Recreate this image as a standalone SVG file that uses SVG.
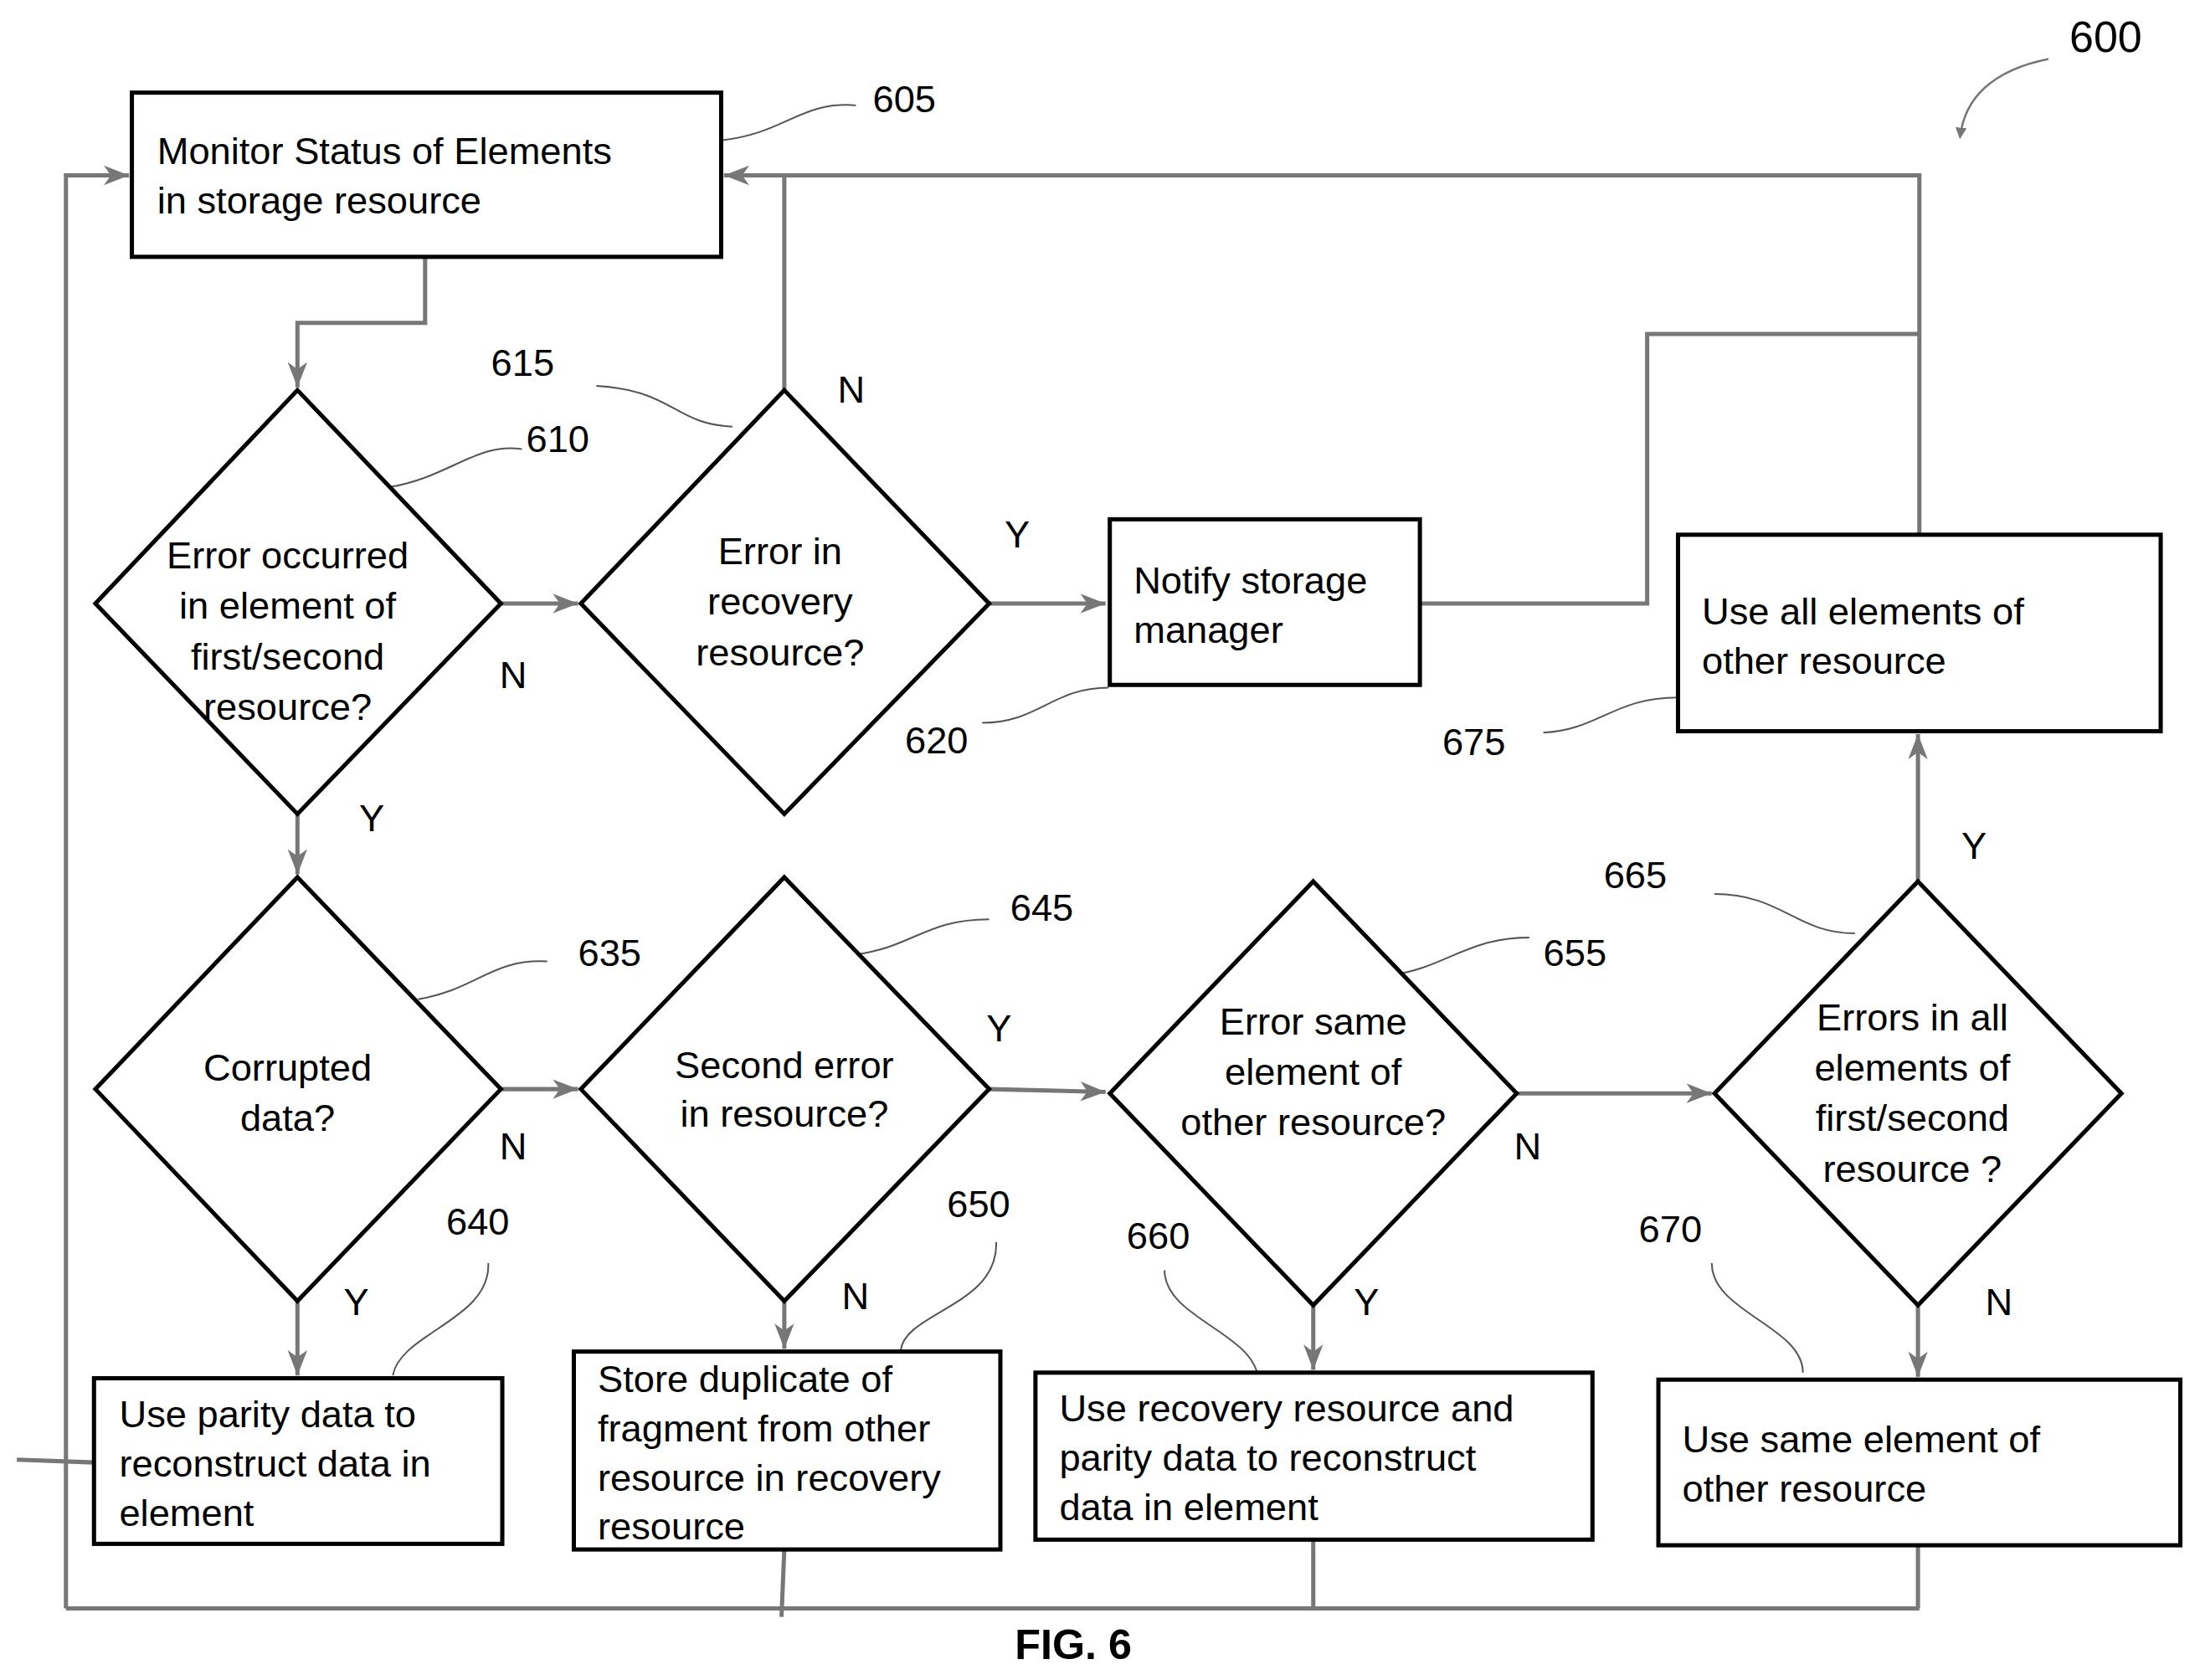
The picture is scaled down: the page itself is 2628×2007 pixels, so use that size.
<svg xmlns="http://www.w3.org/2000/svg" width="2628" height="2007" viewBox="0 0 2628 2007">
<style>
.b{fill:#fff;stroke:#000;stroke-width:3}
.c{fill:none;stroke:#777;stroke-width:3}
.l{fill:none;stroke:#555;stroke-width:1.2}
text{font-family:"Liberation Sans",Arial,sans-serif;font-size:27px;fill:#000}
.m{text-anchor:middle}
</style>
<defs><marker id="a" markerWidth="8" markerHeight="8" refX="7" refY="4" orient="auto" markerUnits="userSpaceOnUse" viewBox="0 0 8 8"><path d="M0,0 L8,4 L0,8 z" fill="#777"/></marker>
<marker id="k" markerWidth="20" markerHeight="20" refX="18" refY="10" orient="auto" markerUnits="userSpaceOnUse"><path d="M0,3 L18,10 L0,17 L5,10 z" fill="#777"/></marker></defs>
<rect width="2628" height="2007" fill="#fff"/>
<g transform="scale(1.676,1.6767)">
<g id="connectors">
<path class="c" d="M303,183 V230 H212 V276" marker-end="url(#k)"/>
<path class="c" d="M357,430 H412" marker-end="url(#k)"/>
<path class="c" d="M705,430 H788" marker-end="url(#k)"/>
<path class="c" d="M559,278 V125"/>
<path class="c" d="M1368,380 V125 H516" marker-end="url(#k)"/>
<path class="c" d="M1012,430 H1174 V238 H1368"/>
<path class="c" d="M47,1146 V125 H92" marker-end="url(#k)"/>
<path class="c" d="M47,1146 H1368"/>
<path class="c" d="M12,1040 L67,1042"/>
<path class="c" d="M212,580 V623" marker-end="url(#k)"/>
<path class="c" d="M357,776 H412" marker-end="url(#k)"/>
<path class="c" d="M705,776 L788,778" marker-end="url(#k)"/>
<path class="c" d="M1081,779 H1220" marker-end="url(#k)"/>
<path class="c" d="M1367,628 V523" marker-end="url(#k)"/>
<path class="c" d="M212,927 V980" marker-end="url(#k)"/>
<path class="c" d="M559,927 V961" marker-end="url(#k)"/>
<path class="c" d="M559,1104 L557,1152"/>
<path class="c" d="M936,930 V976" marker-end="url(#k)"/>
<path class="c" d="M936,1097 V1146"/>
<path class="c" d="M1367,930 V981" marker-end="url(#k)"/>
<path class="c" d="M1367,1101 V1146"/>
</g>
<g id="leaders">
<path class="l" d="M514,100 C560,95 570,72 610,75"/>
<path class="l" d="M278,347 C320,340 340,315 372,320"/>
<path class="l" d="M425,275 C480,278 480,302 522,304"/>
<path class="l" d="M700,515 C740,515 750,490 790,490"/>
<path class="l" d="M1100,522 C1140,520 1150,497 1196,497"/>
<path class="l" d="M298,712 C340,705 350,683 390,685"/>
<path class="l" d="M610,680 C650,675 660,655 705,655"/>
<path class="l" d="M990,695 C1030,690 1045,668 1090,668"/>
<path class="l" d="M1222,637 C1270,637 1280,665 1322,665"/>
<path class="l" d="M348,900 C350,940 285,950 280,980"/>
<path class="l" d="M710,885 C712,930 645,935 642,962"/>
<path class="l" d="M830,905 C830,940 897,950 897,985"/>
<path class="l" d="M1220,900 C1220,935 1285,945 1285,978"/>
<path class="c" style="stroke-width:1.5" d="M1460,42 C1420,50 1400,70 1397,98" marker-end="url(#a)"/>
</g>
<g id="n605"><rect class="b" x="94" y="66" width="420" height="117"/><text x="112" y="117">Monitor Status of Elements</text><text x="112" y="152">in storage resource</text><text x="622" y="80">605</text></g>
<g id="n610"><polygon class="b" points="212,278 357,430 212,580 68,430"/><g class="m"><text x="205" y="405" class="m">Error occurred</text><text x="205" y="441" class="m">in element of</text><text x="205" y="477" class="m">first/second</text><text x="205" y="513" class="m">resource?</text></g><text x="375" y="322">610</text><text x="356" y="490">N</text><text x="256" y="592">Y</text></g>
<g id="n615"><polygon class="b" points="559,278 705,430 559,580 414,430"/><text x="556" y="402" class="m">Error in</text><text x="556" y="438" class="m">recovery</text><text x="556" y="474" class="m">resource?</text><text x="350" y="268">615</text><text x="597" y="287">N</text><text x="716" y="390">Y</text></g>
<g id="n620"><rect class="b" x="791" y="370" width="221" height="118"/><text x="808" y="423">Notify storage</text><text x="808" y="458">manager</text><text x="645" y="537">620</text></g>
<g id="n675"><rect class="b" x="1196" y="381" width="344" height="140"/><text x="1213" y="445">Use all elements of</text><text x="1213" y="480">other resource</text><text x="1028" y="538">675</text></g>
<g id="n600"><text x="1475" y="37" style="font-size:31px">600</text></g>
<g id="n635"><polygon class="b" points="212,625 357,776 212,927 68,776"/><text x="205" y="770" class="m">Corrupted</text><text x="205" y="806" class="m">data?</text><text x="412" y="688">635</text><text x="356" y="826">N</text><text x="245" y="937">Y</text></g>
<g id="n645"><polygon class="b" points="559,625 705,776 559,927 414,776"/><text x="559" y="768" class="m">Second error</text><text x="559" y="803" class="m">in resource?</text><text x="720" y="656">645</text><text x="703" y="742">Y</text><text x="600" y="933">N</text></g>
<g id="n655"><polygon class="b" points="936,628 1081,779 936,930 791,779"/><text x="936" y="737" class="m">Error same</text><text x="936" y="773" class="m">element of</text><text x="936" y="809" class="m">other resource?</text><text x="1100" y="688">655</text><text x="1079" y="826">N</text><text x="965" y="937">Y</text></g>
<g id="n665"><polygon class="b" points="1367,628 1512,779 1367,930 1222,779"/><text x="1363" y="734" class="m">Errors in all</text><text x="1363" y="770" class="m">elements of</text><text x="1363" y="806" class="m">first/second</text><text x="1363" y="842" class="m">resource ?</text><text x="1143" y="633">665</text><text x="1398" y="612">Y</text><text x="1415" y="937">N</text></g>
<g id="n640"><rect class="b" x="67" y="982" width="291" height="118"/><text x="85" y="1017">Use parity data to</text><text x="85" y="1052">reconstruct data in</text><text x="85" y="1087">element</text><text x="318" y="880">640</text></g>
<g id="n650"><rect class="b" x="409" y="963" width="304" height="141"/><text x="426" y="992">Store duplicate of</text><text x="426" y="1027">fragment from other</text><text x="426" y="1062">resource in recovery</text><text x="426" y="1097">resource</text><text x="675" y="867">650</text></g>
<g id="n660"><rect class="b" x="738" y="978" width="397" height="119"/><text x="755" y="1013">Use recovery resource and</text><text x="755" y="1048">parity data to reconstruct</text><text x="755" y="1083">data in element</text><text x="803" y="890">660</text></g>
<g id="n670"><rect class="b" x="1182" y="983" width="372" height="118"/><text x="1199" y="1035">Use same element of</text><text x="1199" y="1070">other resource</text><text x="1168" y="885">670</text></g>
<text x="765" y="1182" class="m" style="font-weight:bold;font-size:30px">FIG. 6</text>
</g>
</svg>
